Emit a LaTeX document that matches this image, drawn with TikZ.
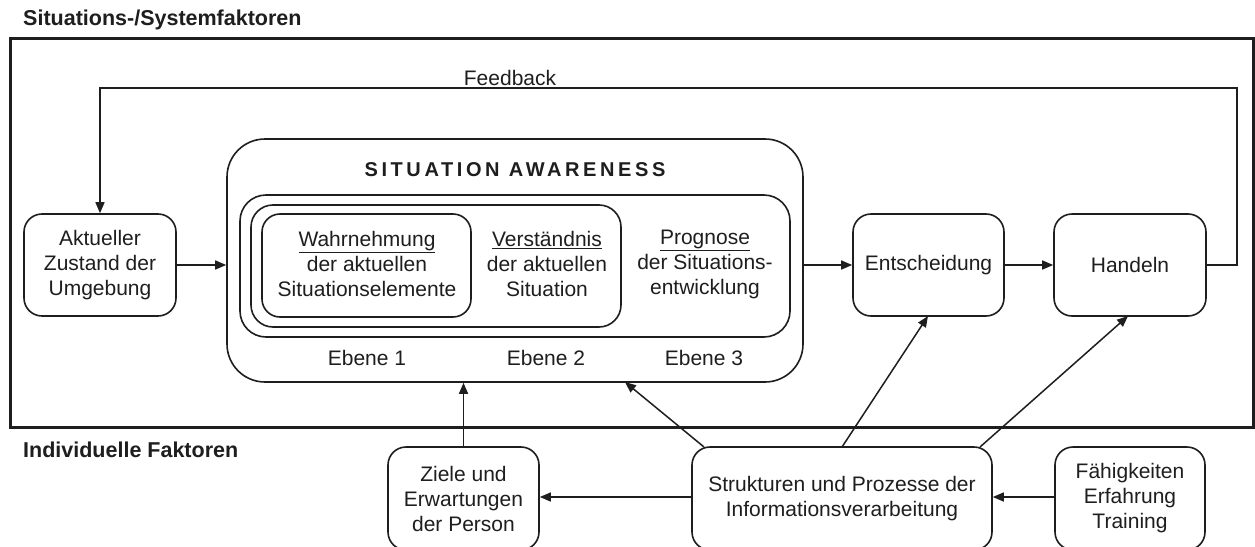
\documentclass[tikz,border=0pt]{standalone}
\usepackage{fontspec}
\setmainfont{Liberation Sans}
\newfontfamily\spacedbold[LetterSpace=18,BoldFont={Liberation Sans Bold}]{Liberation Sans}
\usetikzlibrary{arrows.meta}
\definecolor{ink}{HTML}{1E1E1E}
\begin{document}
\begin{tikzpicture}[x=1pt,y=-1pt,
  txt/.style={inner sep=0pt, align=center, text=ink, font=\fontsize{21}{25}\selectfont},
  box/.style={txt, draw=ink, line width=1.6pt, rounded corners=18pt},
  ttl/.style={inner sep=0pt, anchor=west, text=ink, font=\fontsize{21.5}{25}\selectfont\bfseries},
  conn/.style={draw=ink, line width=1.5pt, -{Triangle[length=11pt,width=9pt]}},
  plain/.style={draw=ink, line width=1.5pt}]
\useasboundingbox (0,0) rectangle (1255,546);
\fill[white] (0,0) rectangle (1255,546);
% titles and frame
\node[ttl] (t1) at (23,20) {Situations-/Systemfaktoren};
\node[ttl] (t2) at (23,450) {Individuelle Faktoren};
\draw[ink, line width=3pt] (10,38) rectangle (1253,427);
% left and right boxes
\node[box, minimum width=152pt, minimum height=102pt] (akt) at (100,265) {Aktueller\\Zustand der\\Umgebung};
\node[box, minimum width=151pt, minimum height=102pt] (ent) at (928.5,265) {Entscheidung};
\node[box, minimum width=152pt, minimum height=102pt] (han) at (1130,265) {Handeln};
% situation awareness
\node[box, rounded corners=38pt, minimum width=576pt, minimum height=243pt] (sa) at (515,260.5) {};
\node[box, rounded corners=26pt, minimum width=550pt, minimum height=142pt] (l3) at (515,266) {};
\node[box, rounded corners=22pt, minimum width=370pt, minimum height=122pt] (l2) at (436,266) {};
\node[box, rounded corners=18pt, minimum width=209pt, minimum height=103pt] (l1) at (366.5,265.5) {};
\node[inner sep=0pt, text=ink, font=\fontsize{20}{24}\selectfont\spacedbold\bfseries] (satitle) at (515,170) {SITUATION AWARENESS};
\node[txt] (w) at (367,264) {\underline{Wahrnehmung}\\der aktuellen\\Situationselemente};
\node[txt] (v) at (547,264) {\underline{Verständnis}\\der aktuellen\\Situation};
\node[txt] (p) at (705,264) {\underline{Prognose}\\der Situations-\\entwicklung};
\node[txt] (e1) at (367,358) {Ebene 1};
\node[txt] (e2) at (546,358) {Ebene 2};
\node[txt] (e3) at (704,358) {Ebene 3};
% bottom boxes (cut by the lower edge)
\node[box, minimum width=151pt, minimum height=103pt] (ziel) at (463.5,498.5) {Ziele und\\Erwartungen\\der Person};
\node[box, minimum width=300pt, minimum height=103pt] (str) at (842,498.5) {Strukturen und Prozesse der\\Informationsverarbeitung};
\node[box, minimum width=150pt, minimum height=103pt] (fae) at (1130,498.5) {Fähigkeiten\\Erfahrung\\Training};
% main flow
\draw[conn] (akt.east) -- (sa.west |- akt.east);
\draw[conn] (sa.east |- ent.west) -- (ent.west);
\draw[conn] (ent.east) -- (han.west);
% feedback loop
\coordinate (fb1) at (1237,265);
\coordinate (fb2) at (1237,88);
\coordinate (fb3) at (100,88);
\draw[conn] (han.east) -- (fb1) -- (fb2) -- (fb3) -- (akt.north);
\node[txt, anchor=base] (fb) at (510,85) {Feedback};
% influences
\coordinate (zb) at (463.5,497);
\coordinate (sb) at (842,497);
\coordinate (fbx) at (1130,497);
\draw[conn] (ziel.north) -- (sa.south -| ziel.north);
\coordinate (s1) at (704,447);
\coordinate (s2) at (842,447);
\coordinate (s3) at (980,447);
\coordinate (sat) at (625,382);
\coordinate (entb) at (928,316);
\coordinate (hanb) at (1128,316);
\draw[conn] (s1) -- (sat);
\draw[conn] (s2) -- (entb);
\draw[conn] (s3) -- (hanb);
\draw[conn] (str.west |- sb) -- (ziel.east |- zb);
\draw[conn] (fae.west |- fbx) -- (str.east |- sb);
\end{tikzpicture}
\end{document}
